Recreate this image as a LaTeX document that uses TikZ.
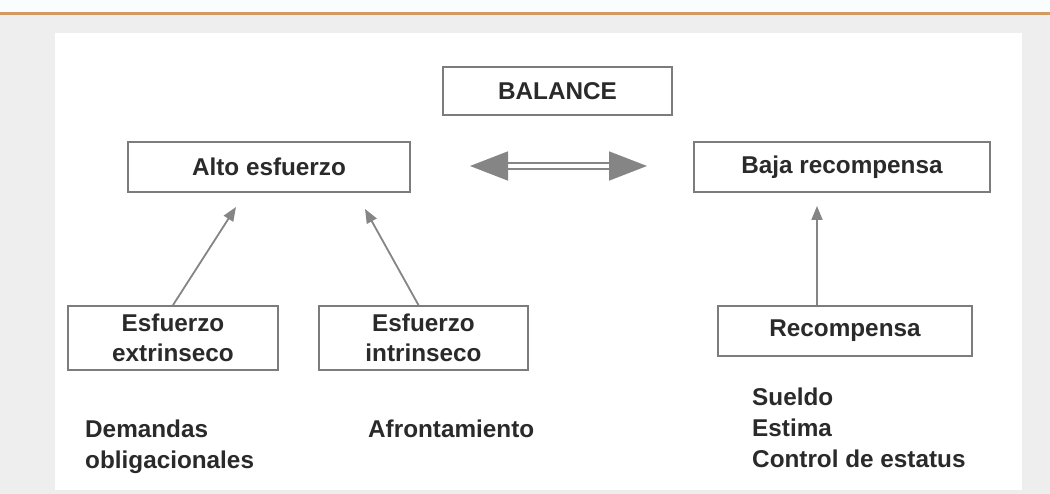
\documentclass[tikz,border=0pt]{standalone}
\usepackage{fontspec}
\setmainfont{Liberation Sans}
\usetikzlibrary{arrows.meta}
\usepackage{xcolor}
\definecolor{fondo}{HTML}{EEEEEE}
\definecolor{cielo}{HTML}{FAFDFD}
\definecolor{naranja}{HTML}{D39A62}
\definecolor{borde}{HTML}{7C7C7C}
\definecolor{flecha}{HTML}{858585}
\definecolor{texto}{HTML}{2A2A2A}

\begin{document}
\begin{tikzpicture}[x=1pt,y=-1pt,>={Triangle[length=14pt,width=11pt]},
  every node/.style={font=\bfseries\fontsize{24.3}{30}\selectfont,text=texto},
  caja/.style={draw=borde,line width=1.8pt,fill=white,inner sep=0pt,align=center},
  nota/.style={anchor=north west,align=left,inner sep=0pt,font=\bfseries\fontsize{24.3}{31}\selectfont}]
\fill[fondo] (0,0) rectangle (1050,494);
\fill[cielo] (0,0) rectangle (1050,12);
\fill[naranja] (0,12) rectangle (1050,15);
\fill[white] (55,33) rectangle (1022,490);
\useasboundingbox (0,0) rectangle (1050,494);
\node[caja,minimum width=229pt,minimum height=48pt] (balance) at (557.5,91) {BALANCE};
\node[caja,minimum width=282pt,minimum height=50pt] (alto) at (269,167) {Alto esfuerzo};
\node[caja,minimum width=296pt,minimum height=50pt] (baja) at (842,167) {Baja recompensa};
\node[caja,minimum width=210pt,minimum height=64pt] (extr) at (173,338) {Esfuerzo\\extrinseco};
\node[caja,minimum width=209pt,minimum height=64pt] (intr) at (423.5,338) {Esfuerzo\\intrinseco};
\node[caja,minimum width=254pt,minimum height=50pt] (recomp) at (845,331) {Recompensa};
\node[nota] (dem) at (85,420) {Demandas\\obligacionales};
\node[nota] (afr) at (368,420) {Afrontamiento};
\node[nota] (premios) at (752,388) {Sueldo\\Estima\\Control de estatus};
% puntas libres de las flechas
\coordinate (t1) at (236,207);
\coordinate (t2) at (365,209);
\coordinate (t3) at (817,206);
\coordinate (izq) at (470,166);
\coordinate (der) at (647,166);
\draw[->,flecha,line width=1.8pt] (extr.north) -- (t1);
\draw[->,flecha,line width=1.8pt] ([xshift=-5pt]intr.north) -- (t2);
\draw[->,flecha,line width=1.8pt] (recomp.north -| t3) -- (t3);
\draw[flecha,line width=1.6pt,double=white,double distance=4.5pt,{Triangle[length=38pt,width=29pt]}-{Triangle[length=38pt,width=29pt]}] (izq) -- (der);
\end{tikzpicture}
\end{document}
